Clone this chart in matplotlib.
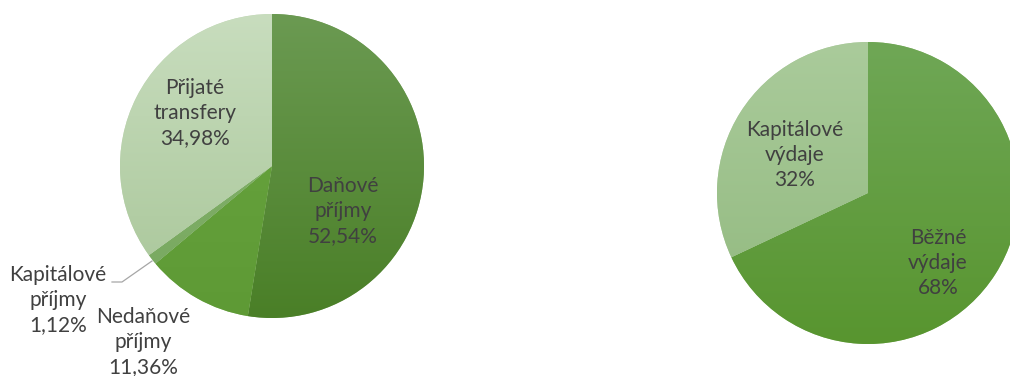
import numpy as np
import matplotlib.pyplot as plt
from matplotlib.colors import to_rgb

plt.rcParams['font.family'] = ['Lato', 'DejaVu Sans']

# Struktura příjmů
prijmy_nazvy = ['Daňové\npříjmy', 'Nedaňové\npříjmy', 'Kapitálové\npříjmy', 'Přijaté\ntransfery']
prijmy_hodnoty = [52.54, 11.36, 1.12, 34.98]
prijmy_barvy = [('#6b9a52', '#4a7f27'), ('#6aa641', '#5e9a35'),
                ('#84b36b', '#78a860'), ('#c8ddbe', '#a7c597')]

# Struktura výdajů
vydaje_nazvy = ['Běžné\nvýdaje', 'Kapitálové\nvýdaje']
vydaje_hodnoty = [68, 32]
vydaje_barvy = [('#6fa756', '#58952f'), ('#aacb9b', '#90b87d')]

W, H = 1010, 376
fig = plt.figure(figsize=(W / 100, H / 100), dpi=100)
ax = fig.add_axes([0, 0, 1, 1])


def gradient_pie(values, colors, center, radius):
    wedges, _ = ax.pie(values, startangle=90, counterclock=False,
                       center=center, radius=radius, frame=True,
                       colors=[c[1] for c in colors],
                       wedgeprops=dict(edgecolor=(1, 1, 1, 0.35), linewidth=0.8))
    cx, cy = center
    for w, (top, bot) in zip(wedges, colors):
        t = np.linspace(0, 1, 256)[:, None]
        grad = (1 - t) * np.array(to_rgb(top)) + t * np.array(to_rgb(bot))
        img = ax.imshow(grad[:, None, :].repeat(2, axis=1),
                        extent=(cx - radius, cx + radius, cy - radius, cy + radius),
                        origin='upper', aspect='auto', zorder=w.get_zorder())
        img.set_clip_path(w)
    return wedges


def fmt(v):
    s = f'{v:.2f}' if v != int(v) else f'{int(v)}'
    return s.replace('.', ',') + '%'


# levý graf – příjmy
gradient_pie(prijmy_hodnoty, prijmy_barvy, (272, H - 166), 152)
# pravý graf – výdaje
gradient_pie(vydaje_hodnoty, vydaje_barvy, (868, H - 193), 151)

txt = dict(ha='center', va='center', fontsize=15, color='#404040', linespacing=1.32)

prijmy_pozice = [(343, 211), (143, 342), (58, 300), (195, 113)]
for nazev, v, (x, y) in zip(prijmy_nazvy, prijmy_hodnoty, prijmy_pozice):
    ax.text(x, H - y, f'{nazev}\n{fmt(v)}', **txt)

# vodicí čára ke Kapitálovým příjmům
ax.plot([112, 122, 152], [H - 282, H - 282, H - 261], color='#a6a6a6', lw=0.9)

vydaje_pozice = [(938, 263), (795, 155)]
for nazev, v, (x, y) in zip(vydaje_nazvy, vydaje_hodnoty, vydaje_pozice):
    ax.text(x, H - y, f'{nazev}\n{fmt(v)}', **txt)

ax.set_xlim(0, W)
ax.set_ylim(0, H)
ax.set_aspect('auto')
ax.axis('off')

fig.savefig('out.png', dpi=100, facecolor='white')
